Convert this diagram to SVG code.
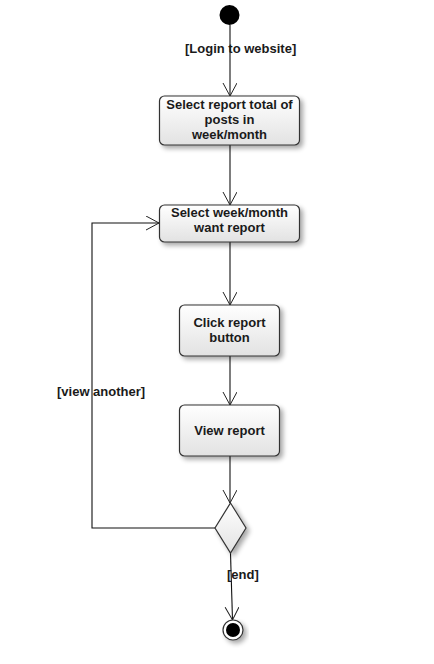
<svg xmlns="http://www.w3.org/2000/svg" width="434" height="664" viewBox="0 0 434 664">
<defs>
<linearGradient id="g" x1="0" y1="0" x2="0" y2="1">
<stop offset="0" stop-color="#ffffff"/>
<stop offset="1" stop-color="#e2e2e2"/>
</linearGradient>
<filter id="sh" x="-20%" y="-20%" width="150%" height="160%">
<feGaussianBlur in="SourceAlpha" stdDeviation="2.5"/>
<feOffset dx="3" dy="3" result="b"/>
<feComponentTransfer><feFuncA type="linear" slope="0.35"/></feComponentTransfer>
<feMerge><feMergeNode/><feMergeNode in="SourceGraphic"/></feMerge>
</filter>
<marker id="arr" markerWidth="16" markerHeight="16" refX="13" refY="7" orient="auto" markerUnits="userSpaceOnUse">
<path d="M0,0 L13,7 L0,14" fill="none" stroke="#222" stroke-width="1"/>
</marker>
</defs>
<style>
.box{fill:url(#g);stroke:#333;stroke-width:1.2;filter:url(#sh)}
.t{font-family:"Liberation Sans",Arial,sans-serif;font-size:13px;font-weight:bold;fill:#1a1a1a;text-anchor:middle}
.l{font-family:"Liberation Sans",Arial,sans-serif;font-size:13px;font-weight:bold;fill:#1a1a1a}
.c{fill:none;stroke:#111;stroke-width:1.1}
</style>
<rect width="434" height="664" fill="#ffffff"/>
<g id="connectors">
<line class="c" x1="230" y1="25" x2="230" y2="96" marker-end="url(#arr)"/>
<line class="c" x1="230" y1="145" x2="230" y2="205" marker-end="url(#arr)"/>
<line class="c" x1="230" y1="242" x2="230" y2="305" marker-end="url(#arr)"/>
<line class="c" x1="230" y1="356" x2="230" y2="405" marker-end="url(#arr)"/>
<line class="c" x1="230" y1="456" x2="230" y2="503" marker-end="url(#arr)"/>
<polyline class="c" points="215,528 92,528 92,223 159,223" marker-end="url(#arr)"/>
<line class="c" x1="230.5" y1="553" x2="232.5" y2="620" marker-end="url(#arr)"/>
<text class="l" x="185" y="53">[Login to website]</text>
<text class="l" x="57" y="396">[view another]</text>
<text class="l" x="227" y="579">[end]</text>
</g>
<g id="start"><circle cx="229.5" cy="15" r="10" fill="#000"/></g>
<g id="n1">
<rect class="box" x="159.5" y="96" width="140" height="49" rx="5"/>
<text class="t" x="229.5" y="109">Select report total of</text>
<text class="t" x="229.5" y="124">posts in</text>
<text class="t" x="229.5" y="139">week/month</text>
</g>
<g id="n2">
<rect class="box" x="159.5" y="205" width="140" height="37" rx="5"/>
<text class="t" x="229.5" y="217">Select week/month</text>
<text class="t" x="229.5" y="232">want report</text>
</g>
<g id="n3">
<rect class="box" x="179.5" y="305" width="100" height="51" rx="5"/>
<text class="t" x="229.5" y="327">Click report</text>
<text class="t" x="229.5" y="342">button</text>
</g>
<g id="n4">
<rect class="box" x="179.5" y="405" width="100" height="51" rx="5"/>
<text class="t" x="229.5" y="435">View report</text>
</g>
<g id="decision">
<polygon class="box" points="230.5,503 246,528 230.5,553 215,528"/>
</g>
<g id="end">
<circle cx="233" cy="630" r="10" fill="#fff" stroke="#333" stroke-width="1.2" filter="url(#sh)"/>
<circle cx="233" cy="630" r="7" fill="#000"/>
</g>
</svg>
